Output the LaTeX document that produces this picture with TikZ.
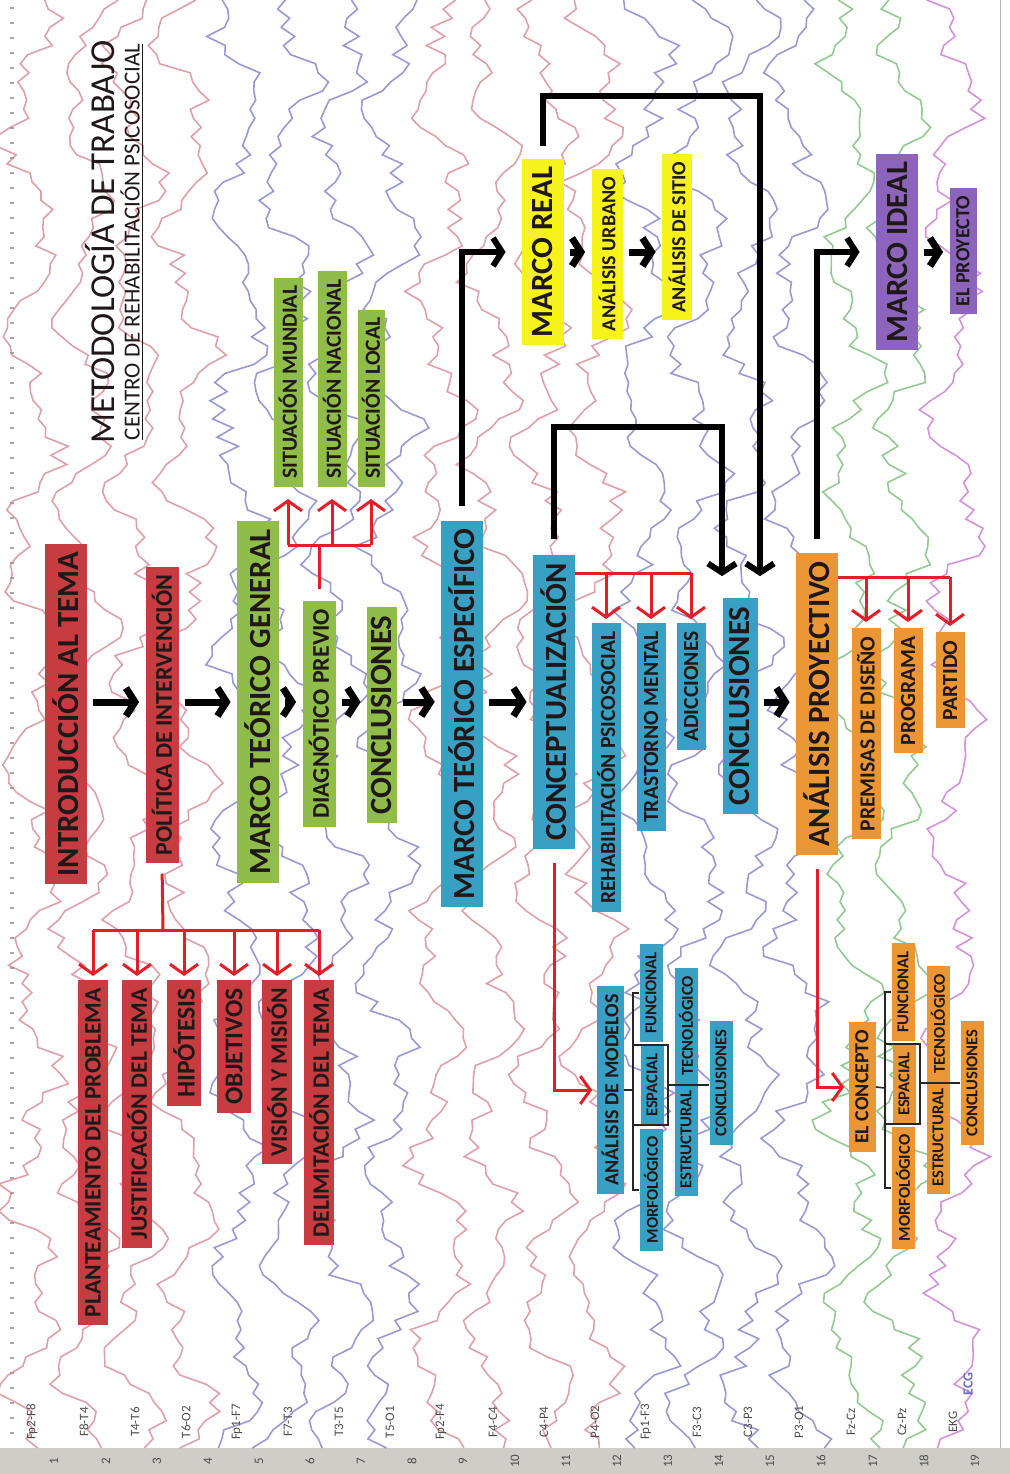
\documentclass[tikz,border=0pt]{standalone}
\usepackage{fontspec}
\setmainfont{Carlito}
\usetikzlibrary{arrows.meta}
\definecolor{boxred}{RGB}{198,60,64}
\definecolor{boxgreen}{RGB}{144,188,74}
\definecolor{boxblue}{RGB}{56,160,194}
\definecolor{boxyellow}{RGB}{246,242,28}
\definecolor{boxorange}{RGB}{234,150,52}
\definecolor{boxpurple}{RGB}{140,100,188}
\definecolor{linered}{RGB}{228,30,40}
\definecolor{textdark}{RGB}{32,24,24}
\definecolor{bandgray}{RGB}{206,205,200}
\definecolor{eegred}{RGB}{210,120,130}
\definecolor{eegblue}{RGB}{110,110,195}
\definecolor{eeggreen}{RGB}{100,180,100}
\definecolor{eegpurple}{RGB}{195,100,205}

\begin{document}
\begin{tikzpicture}[
    x=0.5pt, y=-0.5pt,
    tag/.style={rectangle,rotate=90,inner xsep=4pt,inner ysep=0pt,text=textdark},
    big/.style={tag,font=\fontsize{15.4}{16}\selectfont\bfseries,minimum height=21pt},
    mid/.style={tag,font=\fontsize{12}{13}\selectfont\bfseries,minimum height=16.5pt},
    item/.style={tag,font=\fontsize{11.8}{12}\selectfont\bfseries,minimum height=15pt},
    small/.style={tag,font=\fontsize{10.8}{11}\selectfont\bfseries,minimum height=14.5pt},
    leaf/.style={tag,font=\fontsize{10}{11}\selectfont\bfseries,minimum height=13.5pt},
    tiny/.style={tag,font=\fontsize{8.3}{9}\selectfont\bfseries,minimum height=11.5pt},
    rojo/.style={fill=boxred},
    verde/.style={fill=boxgreen},
    azul/.style={fill=boxblue},
    amarillo/.style={fill=boxyellow},
    naranja/.style={fill=boxorange},
    morado/.style={fill=boxpurple},
    chan/.style={rotate=90,font=\fontsize{6.5}{7}\selectfont,text=black!70,inner sep=0pt},
    chain/.style={line width=3.5pt,-{Straight Barb[length=4.5pt,width=14pt]},shorten <=3pt,shorten >=3pt},
    blackarrow/.style={line width=3pt,-{Straight Barb[length=4.5pt,width=14pt]}},
    redline/.style={draw=linered,line width=1.5pt},
    redarrow/.style={redline,-{Straight Barb[length=5pt,width=14pt]}},
    twig/.style={line width=0.8pt,draw=black!85}
  ]
  \useasboundingbox (0,0) rectangle (1010,1474);
  \fill[white] (0,0) rectangle (1010,1474);

  % eeg sheet in the background
  \fill[bandgray] (0,1448) rectangle (1010,1474);
  \draw[gray!60] (1000,0) -- (1000,1448);
  \foreach \k in {0,...,95}
    \draw[gray!70,line width=0.8pt] (10,8+15*\k) -- (14,8+15*\k);
  \pgfmathsetseed{17}
  \begin{scope}
    \clip (0,0) rectangle (1000,1448);
    \foreach \cx/\col [count=\i] in {32/eegred,84/eegred,135/eegred,186/eegred,
        237/eegblue,288/eegblue,339/eegblue,390/eegblue,
        441/eegred,493/eegred,544/eegred,595/eegred,
        646/eegblue,697/eegblue,748/eegblue,799/eegblue,
        851/eeggreen,902/eeggreen,953/eegpurple}
      \draw[\col,line width=0.8pt,opacity=0.7]
        plot[samples=160,domain=0:1448,variable=\t]
        ({\cx+20*sin(\t*1.7+\i*53)+10*sin(\t*4.1+\i*20)+11*rand},\t);
  \end{scope}
  \foreach \cx/\lab [count=\i] in {32/Fp2-F8,84/F8-T4,135/T4-T6,186/T6-O2,
      237/Fp1-F7,288/F7-T3,339/T3-T5,390/T5-O1,441/Fp2-F4,493/F4-C4,
      544/C4-P4,595/P4-O2,646/Fp1-F3,697/F3-C3,748/C3-P3,799/P3-O1,
      851/Fz-Cz,902/Cz-Pz,953/EKG} {
    \node[chan] (ch\i) at (\cx,1422) {\lab};
    \node[chan] (num\i) at (\cx+22,1461) {\i};
  }
  \node[chan,text=eegblue,font=\fontsize{7}{8}\selectfont\bfseries] (ecg) at (968,1384) {ECG};

  % title
  \node[rotate=90,font=\fontsize{17.5}{18}\selectfont,text=textdark] (title) at (100,242) {METODOLOGÍA DE TRABAJO};
  \node[rotate=90,font=\fontsize{11.5}{12}\selectfont,text=textdark] (subtitle) at (132,242) {\underline{CENTRO DE REHABILITACIÓN PSICOSOCIAL}};

  % main row
  \node[big,rojo] (intro) at (66,714) {INTRODUCCIÓN AL TEMA};
  \node[mid,rojo] (pol) at (162,715) {POLÍTICA DE INTERVENCIÓN};
  \node[big,verde] (mtg) at (258,702) {MARCO TEÓRICO GENERAL};
  \node[mid,verde] (diag) at (319,714) {DIAGNÓTICO PREVIO};
  \node[big,verde,minimum height=15pt] (concl1) at (382,715) {CONCLUSIONES};
  \node[big,azul] (mte) at (462,714) {MARCO TEÓRICO ESPECÍFICO};
  \node[big,azul] (concep) at (554,702) {CONCEPTUALIZACIÓN};
  \node[big,azul,minimum height=17.5pt] (concl2) at (740,706) {CONCLUSIONES};
  \node[big,naranja] (proy) at (817,704) {ANÁLISIS PROYECTIVO};

  % red list
  \node[item,rojo,anchor=east] (plan) at (93,980) {PLANTEAMIENTO DEL PROBLEMA};
  \node[item,rojo,anchor=east] (just) at (137,980) {JUSTIFICACIÓN DEL TEMA};
  \node[item,rojo,anchor=east,font=\fontsize{12.8}{13}\selectfont\bfseries,minimum height=17pt] (hipo) at (184,980) {HIPÓTESIS};
  \node[item,rojo,anchor=east,font=\fontsize{12.8}{13}\selectfont\bfseries,minimum height=17pt] (obj) at (234,980) {OBJETIVOS};
  \node[item,rojo,anchor=east] (vis) at (277,980) {VISIÓN Y MISIÓN};
  \node[item,rojo,anchor=east] (delim) at (319,980) {DELIMITACIÓN DEL TEMA};

  % green list
  \node[small,verde,anchor=west] (mundial) at (288,487) {SITUACIÓN MUNDIAL};
  \node[small,verde,anchor=west] (nacional) at (332,487) {SITUACIÓN NACIONAL};
  \node[small,verde,anchor=west,minimum height=13.5pt] (local) at (371,487) {SITUACIÓN LOCAL};

  % blue list
  \node[small,azul,anchor=east] (rehab) at (606,623) {REHABILITACIÓN PSICOSOCIAL};
  \node[small,azul,anchor=east] (trast) at (651,623) {TRASTORNO MENTAL};
  \node[small,azul,anchor=east] (adic) at (691,623) {ADICCIONES};

  % orange list
  \node[small,naranja,anchor=east] (premisas) at (866,628) {PREMISAS DE DISEÑO};
  \node[small,naranja,anchor=east] (programa) at (908,628) {PROGRAMA};
  \node[small,naranja,anchor=east] (partido) at (950,632) {PARTIDO};

  % marco real / ideal
  \node[big,amarillo] (real) at (543,252) {MARCO REAL};
  \node[leaf,amarillo,minimum height=15.5pt] (urbano) at (607,254) {ANÁLISIS URBANO};
  \node[leaf,amarillo,minimum height=15pt] (sitio) at (677,237) {ANÁLISIS DE SITIO};
  \node[big,morado] (ideal) at (897,252) {MARCO IDEAL};
  \node[leaf,morado] (proyecto) at (963,251) {EL PROYECTO};

  % analisis de modelos
  \node[leaf,azul] (modelos) at (610,1090) {ANÁLISIS DE MODELOS};
  \node[tiny,azul] (funcA) at (651,993) {FUNCIONAL};
  \node[tiny,azul] (espA) at (652,1085) {ESPACIAL};
  \node[tiny,azul] (morfA) at (651,1190) {MORFOLÓGICO};
  \node[tiny,azul] (tecA) at (686,1026) {TECNOLÓGICO};
  \node[tiny,azul] (estA) at (686,1139) {ESTRUCTURAL};
  \node[tiny,azul] (conclA) at (721,1083) {CONCLUSIONES};

  % el concepto
  \node[leaf,naranja] (concepto) at (862,1087) {EL CONCEPTO};
  \node[tiny,naranja] (funcB) at (903,992) {FUNCIONAL};
  \node[tiny,naranja] (espB) at (904,1084) {ESPACIAL};
  \node[tiny,naranja] (morfB) at (903,1188) {MORFOLÓGICO};
  \node[tiny,naranja] (tecB) at (938,1024) {TECNOLÓGICO};
  \node[tiny,naranja] (estB) at (938,1137) {ESTRUCTURAL};
  \node[tiny,naranja] (conclB) at (972,1083) {CONCLUSIONES};

  % black arrows
  \coordinate (row) at (0,702);
  \coordinate (rowtop) at (0,252);
  \draw[chain] (intro.south |- row) -- (pol.north |- row);
  \draw[chain] (pol.south |- row) -- (mtg.north |- row);
  \draw[chain] (mtg.south |- row) -- (diag.north |- row);
  \draw[chain] (diag.south |- row) -- (concl1.north |- row);
  \draw[chain] (concl1.south |- row) -- (mte.north |- row);
  \draw[chain] (mte.south |- row) -- (concep.north |- row);
  \draw[chain] (concl2.south |- row) -- (proy.north |- row);
  \draw[chain] (real.south |- rowtop) -- (urbano.north |- rowtop);
  \draw[chain] (urbano.south |- rowtop) -- (sitio.north |- rowtop);
  \draw[chain] (ideal.south |- rowtop) -- (proyecto.north |- rowtop);

  \draw[blackarrow,shorten <=7pt,shorten >=8pt] (mte.east) |- (real.north);
  \draw[blackarrow,shorten <=7pt,shorten >=8pt] (proy.east) |- (ideal.north);
  \coordinate (rtop) at (760,96);
  \coordinate (ctop) at (722,427);
  \draw[blackarrow,shorten <=6pt,shorten >=11pt] (real.east) |- (rtop) -- (rtop |- concl2.east);
  \draw[blackarrow,shorten <=8pt,shorten >=11pt] (concep.east) |- (ctop) -- (ctop |- concl2.east);

  % red brackets
  \coordinate (polj) at (163,930);
  \draw[redline,shorten <=5pt] (pol.west) -- (polj);
  \draw[redline] (plan.east |- polj) -- (delim.east |- polj);
  \foreach \n in {plan,just,hipo,obj,vis,delim}
    \draw[redarrow,shorten >=2pt] (\n.east |- polj) -- (\n.east);

  \coordinate (sitj) at (319,545);
  \draw[redline,shorten <=6pt] (diag.east) -- (diag.east |- sitj);
  \draw[redline] (mundial.west |- sitj) -- (local.west |- sitj);
  \foreach \n in {mundial,nacional,local}
    \draw[redarrow,shorten >=6pt] (\n.west |- sitj) -- (\n.west);

  \coordinate (conj) at (0,573);
  \draw[redline] (concep.south |- conj) -- (adic.east |- conj);
  \foreach \n in {rehab,trast,adic}
    \draw[redarrow,shorten >=2pt] (\n.east |- conj) -- (\n.east);

  \coordinate (proj) at (0,577);
  \draw[redline] (proy.south |- proj) -- (partido.east |- proj);
  \foreach \n in {premisas,programa,partido}
    \draw[redarrow,shorten >=3pt] (\n.east |- proj) -- (\n.east);

  \draw[redarrow,shorten <=7pt,shorten >=2pt] (concep.west) |- (modelos.north);
  \draw[redarrow,shorten <=7pt,shorten >=2pt] (proy.west) |- (concepto.north);

  % small trees
  \coordinate (mbx) at (633,1090);
  \coordinate (mix) at (668,1085);
  \draw[twig] (modelos.south) -- (mbx);
  \draw[twig] (funcA.north) -| (mbx) |- (morfA.north);
  \draw[twig] (mbx |- espA.north east) -| (mix) |- (mbx |- espA.north west);
  \draw[twig] (mix) -- (mix -| conclA.north);

  \coordinate (cbx) at (885,1088);
  \coordinate (cix) at (920,1083);
  \draw[twig] (concepto.south) -- (cbx);
  \draw[twig] (funcB.north) -| (cbx) |- (morfB.north);
  \draw[twig] (cbx |- espB.north east) -| (cix) |- (cbx |- espB.north west);
  \draw[twig] (cix) -- (cix -| conclB.north);
\end{tikzpicture}
\end{document}
